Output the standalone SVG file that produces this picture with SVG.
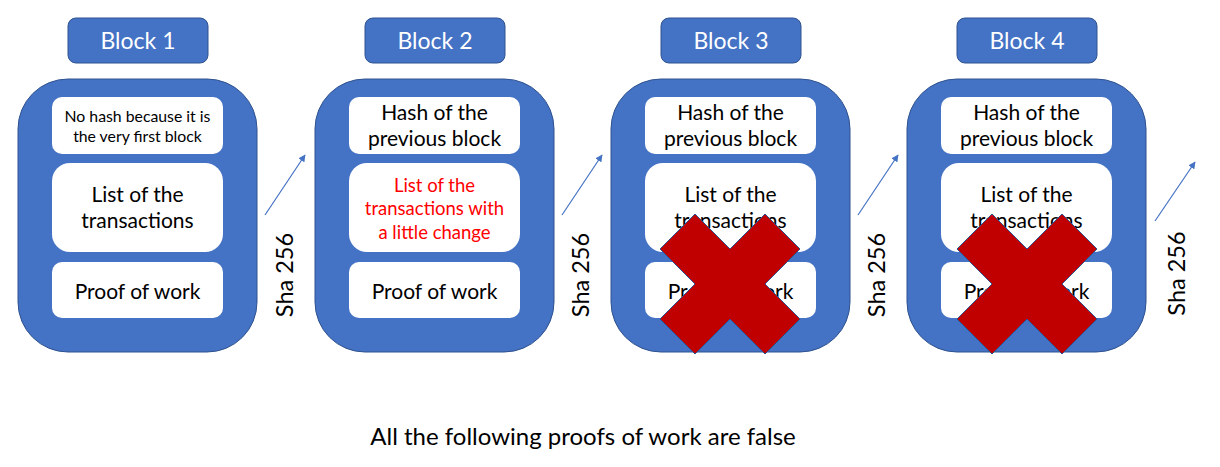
<svg xmlns="http://www.w3.org/2000/svg" width="1220" height="467" viewBox="0 0 1220 467">
<defs>
<style>
.lbl{fill:#4472C4;stroke:#2F528F;stroke-width:1}
.outer{fill:#4472C4;stroke:#2F528F;stroke-width:1}
.inner{fill:#ffffff}
text{font-family:Lato,"Liberation Sans",sans-serif;text-anchor:middle}
.w{fill:#ffffff;font-size:23px}
.k{fill:#000000;font-size:21px}
.s{fill:#000000;font-size:15.8px}
.r{fill:#FF0000;font-size:18.5px}
.sha{fill:#000000;font-size:23.5px}
.foot{fill:#000000;font-size:24px}
.x{fill:#C00000;stroke:#2F528F;stroke-width:1}
.arr{stroke:#4472C4;stroke-width:1.2;fill:none;marker-end:url(#ah)}
</style>
<marker id="ah" viewBox="0 0 10 10" refX="9" refY="5" markerWidth="6" markerHeight="6" orient="auto" markerUnits="strokeWidth">
<path d="M0,0 L10,5 L0,10 z" fill="#4472C4"/>
</marker>
<polygon id="cross" points="695,214 730,249 765,214 800,249 765,284 800,319 765,354 730,319 695,354 660,319 695,284 660,249"/>
</defs>
<rect width="1220" height="467" fill="#ffffff"/>

<g id="block1">
<rect class="lbl" x="68" y="18" width="140" height="45" rx="8"/>
<text class="w" x="138" y="49">Block 1</text>
<rect class="outer" x="18" y="79" width="239" height="273" rx="50"/>
<rect class="inner" x="52" y="97" width="171" height="57" rx="10"/>
<text class="s" x="137.5" y="121.5">No hash because it is</text>
<text class="s" x="137.5" y="141.5">the very first block</text>
<rect class="inner" x="52" y="163" width="171" height="89" rx="18"/>
<text class="k" x="137.5" y="201.5">List of the</text>
<text class="k" x="137.5" y="227.5">transactions</text>
<rect class="inner" x="52" y="262" width="171" height="56" rx="10"/>
<text class="k" x="137.5" y="298.5">Proof of work</text>
</g>

<g id="block2">
<rect class="lbl" x="365" y="18" width="140" height="45" rx="8"/>
<text class="w" x="435" y="49">Block 2</text>
<rect class="outer" x="315" y="79" width="239" height="273" rx="50"/>
<rect class="inner" x="349" y="97" width="171" height="57" rx="10"/>
<text class="k" x="434.5" y="119.5">Hash of the</text>
<text class="k" x="434.5" y="145.5">previous block</text>
<rect class="inner" x="349" y="163" width="171" height="89" rx="18"/>
<text class="r" x="434.5" y="191.5">List of the</text>
<text class="r" x="434.5" y="214.5">transactions with</text>
<text class="r" x="434.5" y="238.5">a little change</text>
<rect class="inner" x="349" y="262" width="171" height="56" rx="10"/>
<text class="k" x="434.5" y="298.5">Proof of work</text>
</g>

<g id="block3">
<rect class="lbl" x="661" y="18" width="140" height="45" rx="8"/>
<text class="w" x="731" y="49">Block 3</text>
<rect class="outer" x="611" y="79" width="239" height="273" rx="50"/>
<rect class="inner" x="645" y="97" width="171" height="57" rx="10"/>
<text class="k" x="730.5" y="119.5">Hash of the</text>
<text class="k" x="730.5" y="145.5">previous block</text>
<rect class="inner" x="645" y="163" width="171" height="89" rx="18"/>
<text class="k" x="730.5" y="201.5">List of the</text>
<text class="k" x="730.5" y="227.5">transactions</text>
<rect class="inner" x="645" y="262" width="171" height="56" rx="10"/>
<text class="k" x="730.5" y="298.5">Proof of work</text>
<use href="#cross" class="x"/>
</g>

<g id="block4">
<rect class="lbl" x="957" y="18" width="140" height="45" rx="8"/>
<text class="w" x="1027" y="49">Block 4</text>
<rect class="outer" x="907" y="79" width="239" height="273" rx="50"/>
<rect class="inner" x="941" y="97" width="171" height="57" rx="10"/>
<text class="k" x="1026.5" y="119.5">Hash of the</text>
<text class="k" x="1026.5" y="145.5">previous block</text>
<rect class="inner" x="941" y="163" width="171" height="89" rx="18"/>
<text class="k" x="1026.5" y="201.5">List of the</text>
<text class="k" x="1026.5" y="227.5">transactions</text>
<rect class="inner" x="941" y="262" width="171" height="56" rx="10"/>
<text class="k" x="1026.5" y="298.5">Proof of work</text>
<use href="#cross" class="x" transform="translate(297,0)"/>
</g>

<g id="connectors">
<line class="arr" x1="265" y1="215" x2="305" y2="155"/>
<line class="arr" x1="562" y1="215" x2="602" y2="155"/>
<line class="arr" x1="858" y1="215" x2="898" y2="155"/>
<line class="arr" x1="1155" y1="221" x2="1195" y2="162"/>
</g>

<g id="labels">
<text class="sha" transform="translate(293,275) rotate(-90)">Sha 256</text>
<text class="sha" transform="translate(589,275) rotate(-90)">Sha 256</text>
<text class="sha" transform="translate(885,275) rotate(-90)">Sha 256</text>
<text class="sha" transform="translate(1185,273.5) rotate(-90)">Sha 256</text>
<text class="foot" x="583" y="445">All the following proofs of work are false</text>
</g>
</svg>
